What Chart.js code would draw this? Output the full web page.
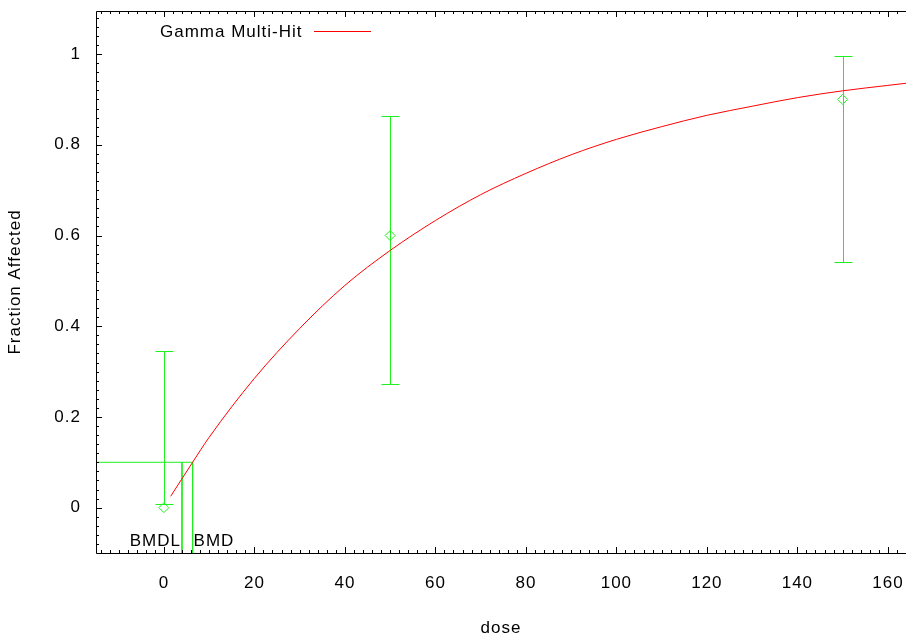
<!DOCTYPE html>
<html>
<head>
<meta charset="utf-8">
<script src="https://cdn.jsdelivr.net/npm/chart.js@4/dist/chart.umd.min.js"></script>
<style>
  html, body { margin: 0; padding: 0; background: #fff; }
  #wrap { width: 906px; height: 639px; }
</style>
</head>
<body>
<div id="wrap"><canvas id="doseChart"></canvas></div>
<script>
// observed dose groups with confidence limits
const doseLevels = [0, 50, 150];
const fractionAffected = [0, 0.6, 0.9];
const lowerLimit = [0.008, 0.273, 0.542];
const upperLimit = [0.345, 0.863, 0.996];

// fitted gamma multi-hit curve
const fitDose = [1.5, 6.35, 10, 20, 30, 40, 50, 60, 70, 80, 90, 100, 110, 120, 130, 140, 150, 160, 166];
const fitFraction = [0.025, 0.1, 0.155, 0.285, 0.395, 0.49, 0.567, 0.633, 0.69, 0.737, 0.778, 0.812, 0.84, 0.865, 0.885, 0.904, 0.919, 0.931, 0.938];

// benchmark response / dose
const bmr = 0.1;
const bmd = 6.35;
const bmdl = 4.0;

const xTicks = [0, 20, 40, 60, 80, 100, 120, 140, 160];
const yTicks = [0, 0.2, 0.4, 0.6, 0.8, 1];

const GREEN = '#1ef01e';
const RED = '#ff0000';
const FONT = { family: "'Liberation Sans', Arial, sans-serif", size: 17 };

// frame, inward ticks (gnuplot style), error bars, BMD labels and legend
const decorations = {
  id: 'decorations',
  beforeDraw(chart) {
    chart.ctx.letterSpacing = '1px';
  },
  beforeDatasetsDraw(chart) {
    const { ctx, scales: { x, y } } = chart;
    ctx.save();
    ctx.strokeStyle = GREEN;
    ctx.lineWidth = 1;
    doseLevels.forEach((d, i) => {
      const px = Math.round(x.getPixelForValue(d)) + 0.5;
      const lo = Math.round(y.getPixelForValue(lowerLimit[i])) + 0.5;
      const hi = Math.round(y.getPixelForValue(upperLimit[i])) + 0.5;
      ctx.beginPath();
      ctx.moveTo(px, lo); ctx.lineTo(px, hi);
      ctx.moveTo(px - 9, lo); ctx.lineTo(px + 9, lo);
      ctx.moveTo(px - 9, hi); ctx.lineTo(px + 9, hi);
      ctx.stroke();
    });
    ctx.restore();
  },
  afterDraw(chart) {
    const { ctx, chartArea: a, scales: { x, y } } = chart;
    ctx.save();
    ctx.strokeStyle = '#000';
    ctx.lineWidth = 1;
    ctx.beginPath();
    ctx.moveTo(a.right + 0.5, a.top + 0.5);
    ctx.lineTo(a.left + 0.5, a.top + 0.5);
    ctx.lineTo(a.left + 0.5, a.bottom + 0.5);
    ctx.lineTo(a.right + 0.5, a.bottom + 0.5);
    // x ticks, bottom and top
    for (let i = -7; i <= 82; i++) {
      const v = i * 2;
      const px = Math.round(x.getPixelForValue(v)) + 0.5;
      if (px < a.left + 1 || px > a.right) continue;
      const len = i % 10 === 0 ? 6 : 3;
      ctx.moveTo(px, a.bottom); ctx.lineTo(px, a.bottom - len);
      ctx.moveTo(px, a.top); ctx.lineTo(px, a.top + len);
    }
    // y ticks, left
    for (let i = -4; i <= 54; i++) {
      const v = i * 0.02;
      const py = Math.round(y.getPixelForValue(v)) + 0.5;
      if (py < a.top + 1 || py > a.bottom - 1) continue;
      const len = i % 10 === 0 ? 6 : 3;
      ctx.moveTo(a.left, py); ctx.lineTo(a.left + len, py);
    }
    ctx.stroke();

    // BMDL / BMD labels
    ctx.fillStyle = '#000';
    ctx.font = `${FONT.size}px ${FONT.family}`;
    ctx.textBaseline = 'alphabetic';
    ctx.textAlign = 'right';
    ctx.fillText('BMDL', x.getPixelForValue(bmdl) - 1, a.bottom - 7);
    ctx.textAlign = 'left';
    ctx.fillText('BMD', x.getPixelForValue(bmd) + 1, a.bottom - 7);

    // legend: label then line sample
    ctx.textBaseline = 'middle';
    ctx.fillText('Gamma Multi-Hit', a.left + 64, a.top + 21);
    ctx.strokeStyle = RED;
    ctx.beginPath();
    ctx.moveTo(a.left + 218, a.top + 20.5);
    ctx.lineTo(a.left + 275, a.top + 20.5);
    ctx.stroke();
    ctx.restore();
  }
};

const toPoints = (xs, ys) => xs.map((v, i) => ({ x: v, y: ys[i] }));
const fmt = v => String(Math.round(v * 100) / 100);

new Chart(document.getElementById('doseChart'), {
  type: 'scatter',
  data: {
    datasets: [
      {
        label: 'Gamma Multi-Hit',
        type: 'line',
        data: toPoints(fitDose, fitFraction),
        borderColor: RED,
        borderWidth: 1,
        pointRadius: 0,
        cubicInterpolationMode: 'monotone',
        fill: false
      },
      {
        label: 'Observed',
        data: toPoints(doseLevels, fractionAffected),
        pointStyle: 'rectRot',
        pointRadius: 5,
        borderColor: GREEN,
        backgroundColor: 'rgba(0,0,0,0)',
        borderWidth: 1
      },
      {
        label: 'BMR',
        type: 'line',
        data: [{ x: -15, y: bmr }, { x: bmd, y: bmr }],
        borderColor: GREEN, borderWidth: 1, pointRadius: 0
      },
      {
        label: 'BMDL',
        type: 'line',
        data: [{ x: bmdl, y: bmr }, { x: bmdl, y: -0.1 }],
        borderColor: GREEN, borderWidth: 1, pointRadius: 0
      },
      {
        label: 'BMD',
        type: 'line',
        data: [{ x: bmd, y: bmr }, { x: bmd, y: -0.1 }],
        borderColor: GREEN, borderWidth: 1, pointRadius: 0
      }
    ]
  },
  options: {
    animation: false,
    responsive: true,
    maintainAspectRatio: false,
    layout: { autoPadding: false, padding: { top: 11, right: 0, bottom: 0, left: 0 } },
    plugins: {
      legend: { display: false },
      tooltip: { enabled: false }
    },
    scales: {
      x: {
        type: 'linear',
        min: -15,
        max: 164,
        afterBuildTicks: s => { s.ticks = xTicks.map(v => ({ value: v })); },
        afterFit: s => { s.height = 86; s.paddingLeft = 0; s.paddingRight = 0; },
        grid: { display: false, drawTicks: false },
        border: { display: false },
        ticks: { color: '#000', font: FONT, padding: 20, maxRotation: 0, autoSkip: false, callback: fmt },
        title: { display: true, text: 'dose', color: '#000', font: FONT, padding: 0 }
      },
      y: {
        type: 'linear',
        min: -0.1,
        max: 1.095,
        afterBuildTicks: s => { s.ticks = yTicks.map(v => ({ value: v })); },
        afterFit: s => { s.width = 96; s.paddingTop = 0; s.paddingBottom = 0; },
        grid: { display: false, drawTicks: false },
        border: { display: false },
        ticks: { color: '#000', font: FONT, padding: 15, autoSkip: false, callback: fmt },
        title: { display: true, text: 'Fraction Affected', color: '#000', font: FONT, padding: { top: 5, bottom: 5 } }
      }
    }
  },
  plugins: [decorations]
});
</script>
</body>
</html>
